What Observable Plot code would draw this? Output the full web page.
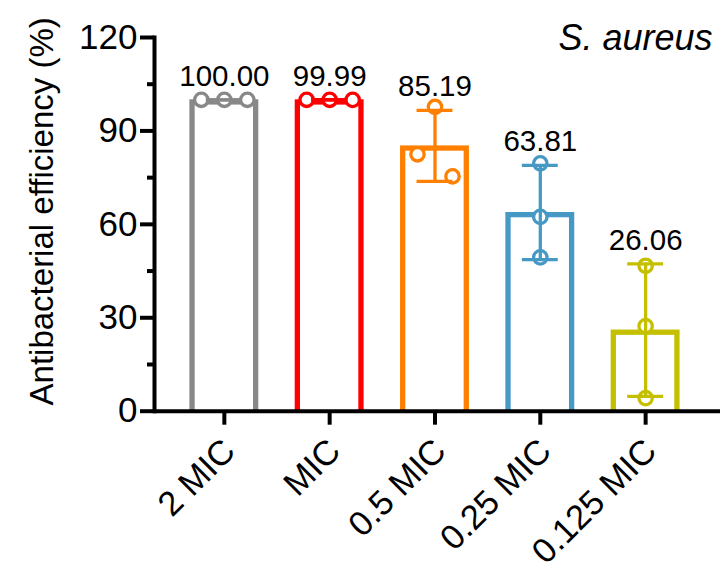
<!DOCTYPE html>
<html><head><meta charset="utf-8">
<script src="https://cdn.jsdelivr.net/npm/d3@7"></script>
<script src="https://cdn.jsdelivr.net/npm/@observablehq/plot@0.6"></script>
<style>html,body{margin:0;padding:0;background:#fff} svg{display:block}</style>
</head><body><div id="chart"></div>
<script>
// ---- data ----
const categories = ["2 MIC", "MIC", "0.5 MIC", "0.25 MIC", "0.125 MIC"];
const means = [100.00, 99.99, 85.19, 63.81, 26.06];
const repLeft = [100, 100, 82.5, 79.6, 46.7];
const repMid = [100, 100, 97.7, 62.4, 27.3];
const repRight = [100, 99.97, 75.4, 49.4, 4.2];
const yTicks = [0, 30, 60, 90, 120];
const yMinorTicks = [15, 45, 75, 105];
const title = "S. aureus";
const yTitle = "Antibacterial efficiency (%)";

// ---- style ----
const colors = ["#888888", "#ff0000", "#ff8000", "#4599c4", "#c4c000"];
const spread = [23, 23, 17.5, 0, 0];
const FONT = "'Liberation Sans', Arial, sans-serif";

const rows = categories.map((c, i) => {
  const reps = [repLeft[i], repMid[i], repRight[i]];
  const sd = d3.deviation(reps);
  return {cat: c, mean: means[i], lo: means[i] - sd, hi: means[i] + sd, color: colors[i], reps, i};
});

const dotMarks = rows.flatMap(r => [-1, 0, 1].map((k, j) =>
  Plot.dot([{cat: r.cat, v: r.reps[j]}], {
    x: "cat", y: "v", dx: k * spread[r.i], r: 6.7,
    stroke: r.color, strokeWidth: 3.3, fill: "white"
  })
));

const chart = Plot.plot({
  width: 720, height: 569,
  marginTop: 37, marginBottom: 158.3, marginLeft: 154, marginRight: 0,
  style: {fontFamily: FONT, background: "white", color: "black", overflow: "visible"},
  x: {type: "band", domain: categories, paddingInner: 0.396, paddingOuter: 0.385, align: 0.469, round: false},
  y: {domain: [0, 120]},
  marks: [
    Plot.barY(rows, {x: "cat", y: "mean", fill: "white", stroke: "color", strokeWidth: 5.3,
      insetTop: 2.65, insetBottom: -3, clip: true}),
    ...dotMarks,
    Plot.ruleX(rows, {x: "cat", y1: "lo", y2: "hi", stroke: "color", strokeWidth: 3.3}),
    Plot.tickY(rows, {x: "cat", y: "hi", stroke: "color", strokeWidth: 3.3, insetLeft: 13.85, insetRight: 13.85}),
    Plot.tickY(rows, {x: "cat", y: "lo", stroke: "color", strokeWidth: 3.3, insetLeft: 13.85, insetRight: 13.85}),
    Plot.text(rows, {x: "cat", y: "hi", text: d => d.mean.toFixed(2), dy: -14, lineAnchor: "bottom", fontSize: 29.5, fill: "black"}),
    Plot.ruleY([0], {strokeWidth: 4}),
    Plot.frame({anchor: "left", strokeWidth: 4}),
    Plot.axisY({ticks: yTicks, tickSize: 14, tickPadding: 3, fontSize: 35, strokeWidth: 4, label: null}),
    Plot.axisY({ticks: yMinorTicks, tickSize: 7, text: null, strokeWidth: 4, label: null}),
    Plot.axisX({tickRotate: -45, tickSize: 0, tickPadding: 34, fontSize: 34.5, label: null, dx: 5}),
    Plot.axisX({tickSize: 14, text: null, strokeWidth: 4, label: null}),
    Plot.text([yTitle], {frameAnchor: "left", rotate: -90, textAnchor: "middle", dx: -112, dy: -13, fontSize: 33, fill: "black"}),
    Plot.text([title], {frameAnchor: "top-right", textAnchor: "end", lineAnchor: "bottom", dx: -8, dy: 12,
      fontSize: 36, fontStyle: "italic", fill: "black"})
  ]
});
document.getElementById("chart").appendChild(chart);
</script>
</body></html>
